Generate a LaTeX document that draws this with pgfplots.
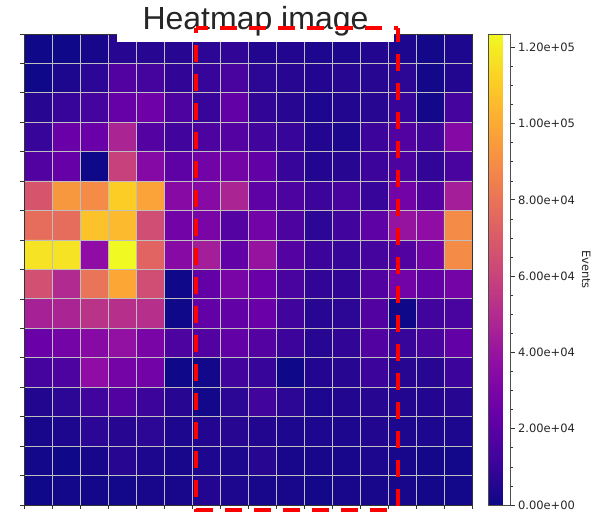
\documentclass[border=0pt]{standalone}
\usepackage{pgfplots}
\pgfplotsset{compat=1.18}
\usepackage{fontspec}
\setmainfont{DejaVu Sans}
\newfontfamily\titlefont{Liberation Sans}

% plasma colour map
\pgfplotsset{
  colormap={plasma}{
    rgb255=(13,8,135) rgb255=(65,4,157) rgb255=(106,0,168) rgb255=(143,13,164)
    rgb255=(177,42,144) rgb255=(204,71,120) rgb255=(225,100,98) rgb255=(242,132,75)
    rgb255=(252,166,54) rgb255=(252,206,37) rgb255=(240,249,33)
  }
}

\begin{document}
\begin{tikzpicture}
\path[use as bounding box] (0,0) rectangle (594pt,512pt);
\begin{axis}[
  at={(24pt,7pt)}, anchor=south west,
  scale only axis, width=448pt, height=471pt,
  xmin=-0.5, xmax=15.5, ymin=-0.5, ymax=15.5,
  y dir=reverse,
  enlargelimits=false,
  axis on top,
  xtick={-0.5,0.5,...,15.5}, ytick={-0.5,0.5,...,15.5},
  xticklabels={}, yticklabels={},
  tick pos=left, tick align=outside,
  major tick length=4pt,
  major tick style={black!80, line width=0.8pt},
  axis line style={black!80, line width=0.8pt},
  grid=major,
  major grid style={draw=gray!50, line width=0.9pt},
  colormap name=plasma,
  point meta min=0, point meta max=123500,
  colorbar,
  colorbar style={
    at={(parent axis.north east)}, anchor=north west, xshift=8pt,
    width=22pt,
    scaled y ticks=false,
    ytick={0,20000,...,120000},
    yticklabels={0.00e+00,2.00e+04,4.00e+04,6.00e+04,8.00e+04,1.00e+05,1.20e+05},
    minor y tick num=3,
    ytick pos=right, tick align=outside,
    major tick length=4pt, minor tick length=2.2pt,
    major tick style={black!80, line width=0.8pt},
    minor tick style={black!80, line width=0.6pt},
    axis line style={black!70, line width=0.8pt},
    yticklabel style={font=\fontsize{11.5}{13}\selectfont, text=black!85},
    ylabel={Events},
    ylabel style={rotate=180, font=\fontsize{11.5}{13}\selectfont, text=black!85},
  },
]
\addplot[matrix plot*, mesh/cols=16, point meta=explicit]
  table[row sep=\\, meta index=2] {
0 0 400\\ 1 0 400\\ 2 0 2500\\ 3 0 6200\\ 4 0 6200\\ 5 0 6200\\ 6 0 7400\\ 7 0 8600\\ 8 0 4900\\ 9 0 4900\\ 10 0 3700\\ 11 0 3700\\ 12 0 4900\\ 13 0 3700\\ 14 0 1200\\ 15 0 3700\\
0 1 400\\ 1 1 3700\\ 2 1 7400\\ 3 1 17300\\ 4 1 13600\\ 5 1 8600\\ 6 1 9900\\ 7 1 14800\\ 8 1 7400\\ 9 1 6200\\ 10 1 4900\\ 11 1 6200\\ 12 1 6200\\ 13 1 7400\\ 14 1 1200\\ 15 1 4900\\
0 2 6200\\ 1 2 9900\\ 2 2 13600\\ 3 2 23500\\ 4 2 25900\\ 5 2 16100\\ 6 2 9900\\ 7 2 22200\\ 8 2 8600\\ 9 2 6200\\ 10 2 3700\\ 11 2 4900\\ 12 2 6200\\ 13 2 9900\\ 14 2 1200\\ 15 2 13600\\
0 3 9900\\ 1 3 24700\\ 2 3 24700\\ 3 3 46900\\ 4 3 18500\\ 5 3 12400\\ 6 3 16100\\ 7 3 18500\\ 8 3 12400\\ 9 3 9900\\ 10 3 4900\\ 11 3 3700\\ 12 3 11100\\ 13 3 17300\\ 14 3 12400\\ 15 3 33300\\
0 4 17300\\ 1 4 23500\\ 2 4 400\\ 3 4 59300\\ 4 4 33300\\ 5 4 21000\\ 6 4 27200\\ 7 4 28400\\ 8 4 22200\\ 9 4 9900\\ 10 4 4900\\ 11 4 6200\\ 12 4 11100\\ 13 4 16100\\ 14 4 8600\\ 15 4 14800\\
0 5 67900\\ 1 5 93900\\ 2 5 88900\\ 3 5 111200\\ 4 5 97600\\ 5 5 34600\\ 6 5 34600\\ 7 5 46900\\ 8 5 21000\\ 9 5 16100\\ 10 5 11100\\ 11 5 14800\\ 12 5 9900\\ 13 5 27200\\ 14 5 17300\\ 15 5 44500\\
0 6 77800\\ 1 6 77800\\ 2 6 107400\\ 3 6 105000\\ 4 6 64200\\ 5 6 27200\\ 6 6 29600\\ 7 6 18500\\ 8 6 27200\\ 9 6 16100\\ 10 6 7400\\ 11 6 12400\\ 12 6 21000\\ 13 6 39500\\ 14 6 37100\\ 15 6 88900\\
0 7 117300\\ 1 7 117300\\ 2 7 37100\\ 3 7 123500\\ 4 7 74100\\ 5 7 34600\\ 6 7 44500\\ 7 7 22200\\ 8 7 39500\\ 9 7 18500\\ 10 7 11100\\ 11 7 9900\\ 12 7 13600\\ 13 7 17300\\ 14 7 27200\\ 15 7 88900\\
0 8 65500\\ 1 8 49400\\ 2 8 80300\\ 3 8 98800\\ 4 8 64200\\ 5 8 400\\ 6 8 22200\\ 7 8 29600\\ 8 8 24700\\ 9 8 14800\\ 10 8 8600\\ 11 8 8600\\ 12 8 17300\\ 13 8 27200\\ 14 8 22200\\ 15 8 28400\\
0 9 45700\\ 1 9 46900\\ 2 9 53100\\ 3 9 51900\\ 4 9 51900\\ 5 9 400\\ 6 9 22200\\ 7 9 22200\\ 8 9 24700\\ 9 9 12400\\ 10 9 6200\\ 11 9 7400\\ 12 9 17300\\ 13 9 400\\ 14 9 12400\\ 15 9 14800\\
0 10 24700\\ 1 10 28400\\ 2 10 34600\\ 3 10 38300\\ 4 10 29600\\ 5 10 16100\\ 6 10 17300\\ 7 10 22200\\ 8 10 18500\\ 9 10 11100\\ 10 10 6200\\ 11 10 8600\\ 12 10 17300\\ 13 10 9900\\ 14 10 14800\\ 15 10 22200\\
0 11 13600\\ 1 11 16100\\ 2 11 37100\\ 3 11 28400\\ 4 11 27200\\ 5 11 400\\ 6 11 1200\\ 7 11 12400\\ 8 11 9900\\ 9 11 400\\ 10 11 4900\\ 11 11 6200\\ 12 11 11100\\ 13 11 6200\\ 14 11 6200\\ 15 11 11100\\
0 12 4900\\ 1 12 7400\\ 2 12 12400\\ 3 12 17300\\ 4 12 11100\\ 5 12 6200\\ 6 12 1200\\ 7 12 7400\\ 8 12 12400\\ 9 12 7400\\ 10 12 3700\\ 11 12 4900\\ 12 12 6200\\ 13 12 4900\\ 14 12 4900\\ 15 12 6200\\
0 13 2500\\ 1 13 3700\\ 2 13 7400\\ 3 13 6200\\ 4 13 7400\\ 5 13 3700\\ 6 13 4900\\ 7 13 6200\\ 8 13 4900\\ 9 13 3700\\ 10 13 3700\\ 11 13 3700\\ 12 13 4900\\ 13 13 3700\\ 14 13 3700\\ 15 13 3700\\
0 14 1200\\ 1 14 400\\ 2 14 2500\\ 3 14 6200\\ 4 14 3700\\ 5 14 2500\\ 6 14 3700\\ 7 14 3700\\ 8 14 6200\\ 9 14 2500\\ 10 14 2500\\ 11 14 2500\\ 12 14 3700\\ 13 14 2500\\ 14 14 1200\\ 15 14 1200\\
0 15 400\\ 1 15 1200\\ 2 15 1200\\ 3 15 1200\\ 4 15 2500\\ 5 15 2500\\ 6 15 4900\\ 7 15 3700\\ 8 15 2500\\ 9 15 2500\\ 10 15 1200\\ 11 15 2500\\ 12 15 2500\\ 13 15 2500\\ 14 15 1200\\ 15 15 1200\\
};
\end{axis}
% title on a white plate
\node[fill=white, minimum width=277pt, minimum height=42pt, inner sep=0pt,
      text=black!85, font=\titlefont\fontsize{32}{38}\selectfont]
  at (255.5pt,491pt) {Heatmap image};
% highlighted region, one dashed stroke per side
\begin{scope}[red, line width=4.5pt]
  \draw[dash pattern=on 17pt off 12pt, dash phase=5pt]  (196pt,484pt) -- (398pt,484pt);
  \draw[dash pattern=on 17pt off 12pt, dash phase=12pt] (196pt,484pt) -- (196pt,0pt);
  \draw[dash pattern=on 17pt off 12pt, dash phase=3pt]  (398pt,484pt) -- (398pt,0pt);
  \draw[dash pattern=on 17pt off 12pt]                  (196pt,2pt)   -- (398pt,2pt);
\end{scope}
\end{tikzpicture}
\end{document}
